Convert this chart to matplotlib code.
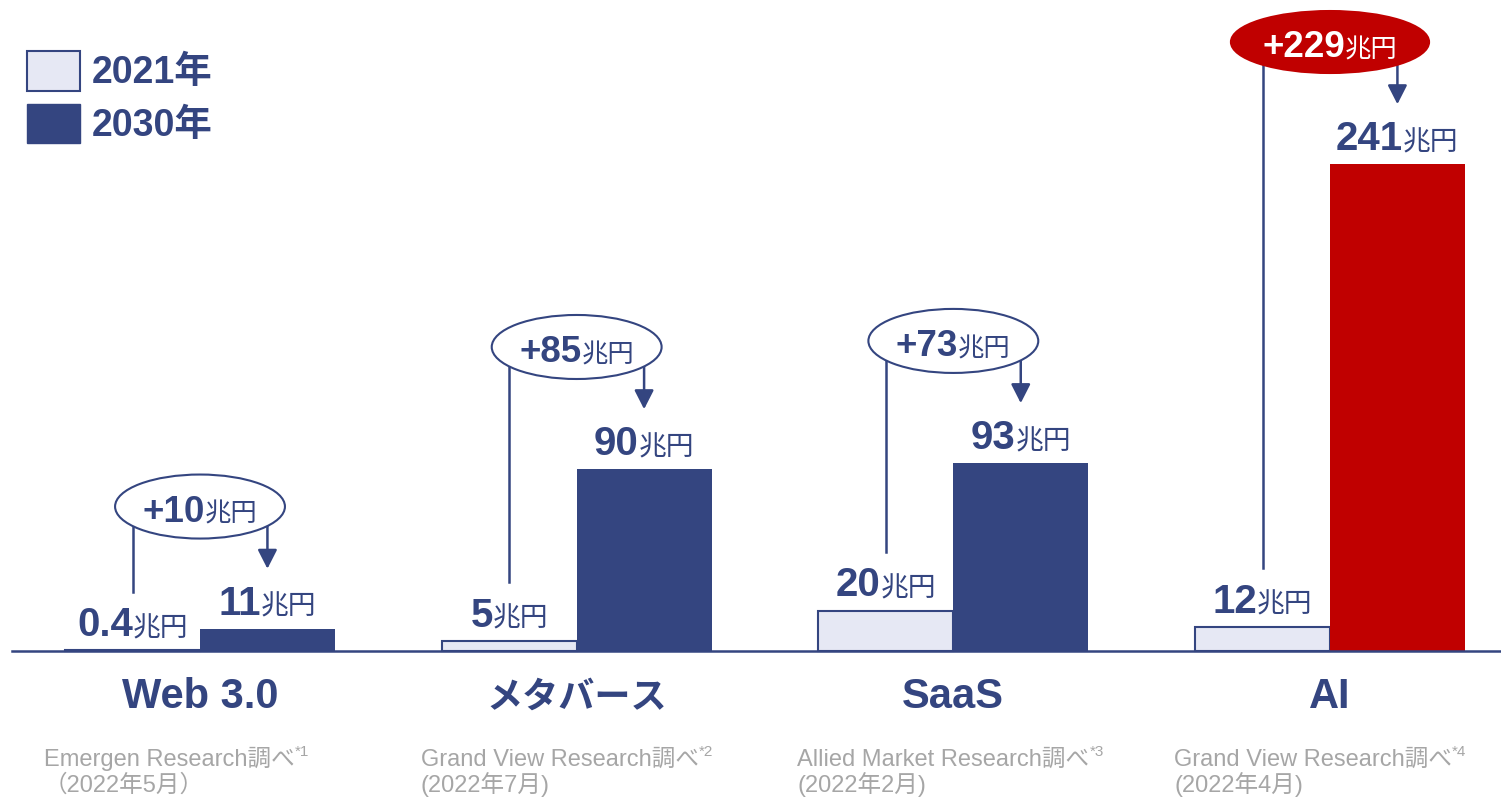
import numpy as np
import matplotlib.pyplot as plt
from matplotlib.patches import Ellipse, Patch
from matplotlib.transforms import offset_copy

categories = ['Web 3.0', 'メタバース', 'SaaS', 'AI']
val_2021 = [0.4, 5, 20, 12]
val_2030 = [11, 90, 93, 241]
lbl_2021 = ['0.4', '5', '20', '12']
lbl_2030 = ['11', '90', '93', '241']
growth = ['+10', '+85', '+73', '+229']
sources = ['Emergen Research調べ', 'Grand View Research調べ',
           'Allied Market Research調べ', 'Grand View Research調べ']
notes = ['*1', '*2', '*3', '*4']
dates = ['（2022年5月）', '(2022年7月)', '(2022年2月)', '(2022年4月)']
years = ['2021年', '2030年']

NAVY = '#344580'
LIGHT = '#E6E8F4'
RED = '#C00000'
GRAY = '#A6A6A6'
FONTS = ['Liberation Sans', 'Noto Sans CJK JP']
plt.rcParams['font.family'] = FONTS

fig = plt.figure(figsize=(15.01, 7.99), dpi=100)
ax = fig.add_axes([0, 0, 1, 1])
ax.set_xlim(-0.531, 3.454)
ax.set_ylim(-73.3, 322.3)
ax.axis('off')
renderer = fig.canvas.get_renderer()

x = np.arange(len(categories))
w = 0.358
c2030 = [NAVY, NAVY, NAVY, RED]

ax.bar(x - w/2, val_2021, w, color=LIGHT, edgecolor=NAVY, linewidth=1.5, zorder=2)
ax.bar(x + w/2, val_2030, w, color=c2030, linewidth=0, zorder=2)
ax.axhline(0, xmin=0.008, xmax=1, color=NAVY, lw=1.8, zorder=3)


def runs(xd, yd, parts, ha='center'):
    # parts: (text, size, weight, color, rise in points)
    txts = []
    for s, size, weight, color, rise in parts:
        t = ax.text(xd, yd, s, fontsize=size, fontweight=weight, color=color,
                    ha='left', va='baseline', family=FONTS, zorder=6)
        txts.append((t, rise))
    widths = [t.get_window_extent(renderer).width * 72 / fig.dpi for t, _ in txts]
    pos = -sum(widths) / 2 if ha == 'center' else 0
    for (t, rise), wd in zip(txts, widths):
        t.set_transform(offset_copy(ax.transData, fig=fig, x=pos, y=rise, units='points'))
        pos += wd


for i in range(len(categories)):
    v21, v30 = val_2021[i], val_2030[i]
    # value labels
    runs(i - w/2, v21 + 7, [(lbl_2021[i], 29, 'bold', NAVY, 0), ('兆円', 20, 'normal', NAVY, 0)])
    runs(i + w/2, v30 + 7, [(lbl_2030[i], 29, 'bold', NAVY, 0), ('兆円', 20, 'normal', NAVY, 0)])

    # growth bubble
    is_ai = (i == 3)
    ew = 0.526 if is_ai else 0.451
    eh = 30.7 if is_ai else 31.7
    ey = v30 + 60.5
    fc = RED if is_ai else 'white'
    ec = RED if is_ai else NAVY
    tc = 'white' if is_ai else NAVY
    ax.add_patch(Ellipse((i, ey), ew, eh, facecolor=fc, edgecolor=ec, lw=1.5, zorder=4))
    runs(i, ey - 7.5, [(growth[i], 26.5, 'bold', tc, 0), ('兆円', 19, 'normal', tc, 0)])

    yoff = eh / 2 * np.sqrt(1 - (w / 2 / (ew / 2)) ** 2)
    ax.plot([i - w/2, i - w/2], [v21 + 29, ey - yoff], color=NAVY, lw=1.8, zorder=3)
    ax.annotate('', xy=(i + w/2, v30 + 29.7), xytext=(i + w/2, ey - yoff),
                arrowprops=dict(arrowstyle='-|>,head_length=0.55,head_width=0.28',
                                mutation_scale=21, color=NAVY, lw=1.8,
                                shrinkA=0, shrinkB=0), zorder=3)

    # category name
    cat_size = 26 if i == 1 else 30
    ax.text(i, -28.2, categories[i], ha='center', va='baseline', fontsize=cat_size,
            fontweight='bold', color=NAVY, family=FONTS)

    # source
    runs(i - 0.414, -56.9, [(sources[i], 17, 'normal', GRAY, 0),
                            (notes[i], 11, 'normal', GRAY, 7)], ha='left')
    ax.text(i - 0.414, -69.8, dates[i], fontsize=17, color=GRAY,
            ha='left', va='baseline', family=FONTS)

handles = [Patch(facecolor=LIGHT, edgecolor=NAVY, lw=1.5),
           Patch(facecolor=NAVY, edgecolor=NAVY)]
ax.legend(handles, years, loc='upper left', bbox_to_anchor=(27/1501, 1 - 51/799),
          bbox_transform=fig.transFigure, frameon=False,
          prop=dict(family=FONTS, weight='bold', size=27),
          handlelength=1.4, handleheight=1.25, handletextpad=0.32,
          borderpad=0, borderaxespad=0, labelspacing=0.33, labelcolor=NAVY)

fig.savefig('out.png', dpi=100)
